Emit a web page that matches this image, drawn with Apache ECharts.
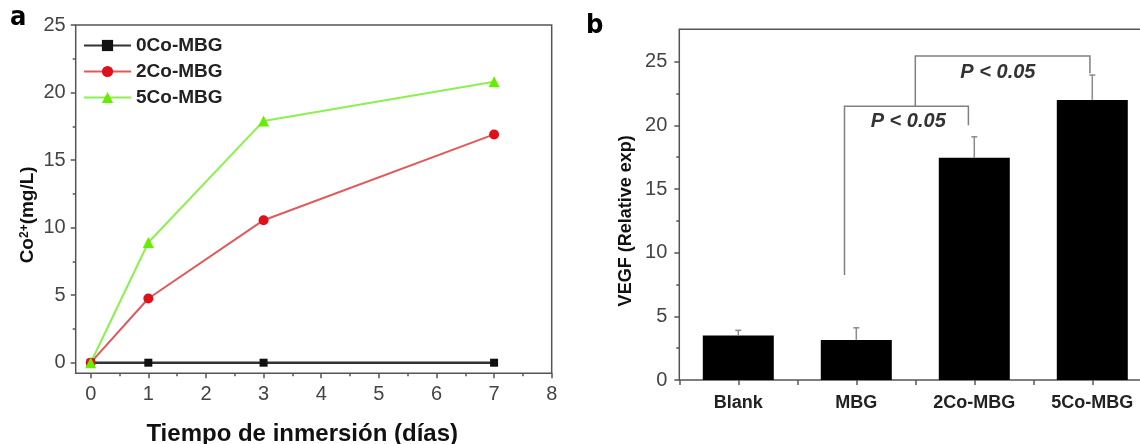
<!DOCTYPE html>
<html><head><meta charset="utf-8">
<script src="https://cdn.jsdelivr.net/npm/echarts@6/dist/echarts.min.js"></script>
<style>html,body{margin:0;padding:0;background:#fff}#c{width:1140px;height:444px}</style>
</head><body><div id="c"></div>
<script>
// ---- Panel a: Co2+ release ----
const days = [0, 1, 3, 7];
const co0 = [0, 0, 0, 0];
const co2 = [0, 4.75, 10.55, 16.9];
const co5 = [0, 8.9, 17.9, 20.8];
const lineNames = ['0Co-MBG', '2Co-MBG', '5Co-MBG'];
const xTitle = 'Tiempo de inmersión (días)';
// ---- Panel b: VEGF ----
const groups = ['Blank', 'MBG', '2Co-MBG', '5Co-MBG'];
const vegfMean = [3.5, 3.15, 17.45, 22.0];
const vegfUpper = [3.9, 4.1, 19.1, 23.95];
// significance brackets (x in group positions 1..4, y in data units)
const brLeftX = [1.9, 2.5];
const brRightX = [2.95, 3.98];
const brTop = [21.5, 25.45];
const brLeftBottom = [8.25, 21.5];
const brRightBottom = [20.0, 24.1];
const pText = ['P < 0.05', 'P < 0.05'];
const pX = [2.44, 3.2];
const pY = [20.3, 24.17];

const FF = '"Liberation Sans", Arial, sans-serif';
const AX = '#555';

const chart = echarts.init(document.getElementById('c'), null, {renderer: 'canvas'});

const tickCommon = {
  axisLine: {show: false, onZero: false},
  axisTick: {show: true, length: 5, lineStyle: {color: AX, width: 1.5}},
  minorTick: {show: true, splitNumber: 2, length: 3, lineStyle: {color: AX, width: 1.5}},
  splitLine: {show: false},
  minorSplitLine: {show: false}
};
const hidden = {show: false};
const G = {outerBoundsMode: 'none', containLabel: false};

const option = {
  animation: false,
  backgroundColor: '#fff',
  grid: [
    // 0: frame of panel a
    Object.assign({left: 75.7, top: 25, width: 476, height: 348.3, show: true, borderColor: AX, borderWidth: 1.5}, G),
    // 1: data area of panel a
    Object.assign({left: 90.7, top: 25, width: 461, height: 337.7}, G),
    // 2: x ticks of panel a (bottom at frame bottom)
    Object.assign({left: 90.7, top: 25, width: 461, height: 348.3}, G),
    // 3: y ticks of panel a (left at frame left)
    Object.assign({left: 75.7, top: 25, width: 476, height: 337.7}, G),
    // 4: frame of panel b
    Object.assign({left: 679.3, top: 29.3, width: 472, height: 350.7, show: true, borderColor: AX, borderWidth: 1.5}, G),
    // 5: data area of panel b
    Object.assign({left: 679.3, top: 61.7, width: 472, height: 318.3}, G)
  ],
  xAxis: [
    Object.assign({gridIndex: 0, type: 'value', min: -0.25, max: 8}, hidden),
    Object.assign({gridIndex: 1, type: 'value', min: 0, max: 8}, hidden),
    Object.assign({gridIndex: 2, type: 'value', min: 0, max: 8, interval: 1,
      axisLabel: {fontSize: 20, color: '#444', margin: 11, fontFamily: FF},
      name: xTitle, nameLocation: 'middle', nameGap: 49,
      nameTextStyle: {fontSize: 24, fontWeight: 'bold', color: '#111', fontFamily: FF, padding: [0, 38, 0, 0]}
    }, tickCommon),
    Object.assign({gridIndex: 3, type: 'value', min: -0.25, max: 8}, hidden),
    Object.assign({gridIndex: 4, type: 'value', min: 0.5, max: 4.5}, hidden),
    Object.assign({gridIndex: 5, type: 'value', min: 0.5, max: 4.5, interval: 0.5,
      axisLabel: {fontSize: 18, fontWeight: 'bold', color: '#222', margin: 14, fontFamily: FF,
        formatter: v => (Math.abs(v - Math.round(v)) < 1e-6 && groups[Math.round(v) - 1]) ? groups[Math.round(v) - 1] : ''}
    }, tickCommon, {minorTick: {show: false}})
  ],
  yAxis: [
    Object.assign({gridIndex: 0, type: 'value', min: -0.8, max: 25}, hidden),
    Object.assign({gridIndex: 1, type: 'value', min: 0, max: 25}, hidden),
    Object.assign({gridIndex: 2, type: 'value', min: -0.8, max: 25}, hidden),
    Object.assign({gridIndex: 3, type: 'value', min: 0, max: 25, interval: 5,
      axisLabel: {fontSize: 20, color: '#444', margin: 10, fontFamily: FF},
      name: '{a|Co}{s|2+}{a|(mg/L)}', nameLocation: 'middle', nameGap: 38,
      nameTextStyle: {fontFamily: FF, color: '#111', padding: [0, 42, 0, 0],
        rich: {a: {fontSize: 19, fontWeight: 'bold', fontFamily: FF, color: '#111'},
               s: {fontSize: 12, fontWeight: 'bold', fontFamily: FF, color: '#111', verticalAlign: 'top'}}}
    }, tickCommon),
    Object.assign({gridIndex: 4, type: 'value', min: 0, max: 27.55}, hidden),
    Object.assign({gridIndex: 5, type: 'value', min: 0, max: 25, interval: 5,
      axisLabel: {fontSize: 20, color: '#444', margin: 12, fontFamily: FF},
      name: 'VEGF (Relative exp)', nameLocation: 'middle', nameGap: 44,
      nameTextStyle: {fontSize: 18, fontWeight: 'bold', color: '#111', fontFamily: FF}
    }, tickCommon)
  ],
  legend: {
    data: lineNames, orient: 'vertical', left: 78, top: 31,
    itemWidth: 47, itemHeight: 14, itemGap: 7,
    textStyle: {fontSize: 19, fontWeight: 'bold', color: '#222', fontFamily: FF}
  },
  graphic: [
    {type: 'text', left: 10, top: 4, style: {text: 'a', font: 'bold 27px "DejaVu Sans Condensed", sans-serif', fill: '#000'}},
    {type: 'text', left: 586, top: 12, style: {text: 'b', font: 'bold 27px "DejaVu Sans Condensed", sans-serif', fill: '#000'}}
  ],
  series: [
    {name: lineNames[0], type: 'line', xAxisIndex: 1, yAxisIndex: 1, clip: false,
      data: days.map((d, i) => [d, co0[i]]),
      symbol: 'rect', symbolSize: 8, lineStyle: {color: '#333', width: 2.5}, itemStyle: {color: '#111'}},
    {name: lineNames[1], type: 'line', xAxisIndex: 1, yAxisIndex: 1, clip: false,
      data: days.map((d, i) => [d, co2[i]]),
      symbol: 'circle', symbolSize: 10, lineStyle: {color: '#e05a5a', width: 2}, itemStyle: {color: '#e0101a'}},
    {name: lineNames[2], type: 'line', xAxisIndex: 1, yAxisIndex: 1, clip: false,
      data: days.map((d, i) => [d, co5[i]]),
      symbol: 'triangle', symbolSize: 11, lineStyle: {color: '#8cf050', width: 2}, itemStyle: {color: '#66ee00'}},
    {type: 'bar', xAxisIndex: 5, yAxisIndex: 5, barWidth: 71,
      data: vegfMean.map((m, i) => [i + 1, m]),
      itemStyle: {color: '#000'}},
    {type: 'custom', xAxisIndex: 5, yAxisIndex: 5, clip: false, z: 5,
      data: vegfMean.map((m, i) => [i + 1, m, vegfUpper[i]]),
      renderItem: (params, api) => {
        const a = api.coord([api.value(0), api.value(1)]);
        const b = api.coord([api.value(0), api.value(2)]);
        const st = {stroke: '#8a8a8a', lineWidth: 1.5};
        return {type: 'group', children: [
          {type: 'line', shape: {x1: a[0], y1: a[1], x2: b[0], y2: b[1]}, style: st},
          {type: 'line', shape: {x1: b[0] - 3, y1: b[1], x2: b[0] + 3, y2: b[1]}, style: st}
        ]};
      }},
    {type: 'custom', xAxisIndex: 5, yAxisIndex: 5, clip: false, z: 6,
      data: brLeftX.map((x, i) => [x, brRightX[i], brTop[i], brLeftBottom[i], brRightBottom[i], pX[i], pY[i], i]),
      renderItem: (params, api) => {
        const p1 = api.coord([api.value(0), api.value(3)]);
        const p2 = api.coord([api.value(0), api.value(2)]);
        const p3 = api.coord([api.value(1), api.value(2)]);
        const p4 = api.coord([api.value(1), api.value(4)]);
        const t = api.coord([api.value(5), api.value(6)]);
        return {type: 'group', children: [
          {type: 'polyline', shape: {points: [p1, p2, p3, p4]}, style: {stroke: '#808080', lineWidth: 1.5, fill: null}},
          {type: 'text', x: t[0], y: t[1], style: {text: pText[api.value(7)], fill: '#333',
            font: 'italic bold 20px ' + FF, align: 'center', verticalAlign: 'middle'}}
        ]};
      }}
  ]
};
chart.setOption(option);
</script>
</body></html>
